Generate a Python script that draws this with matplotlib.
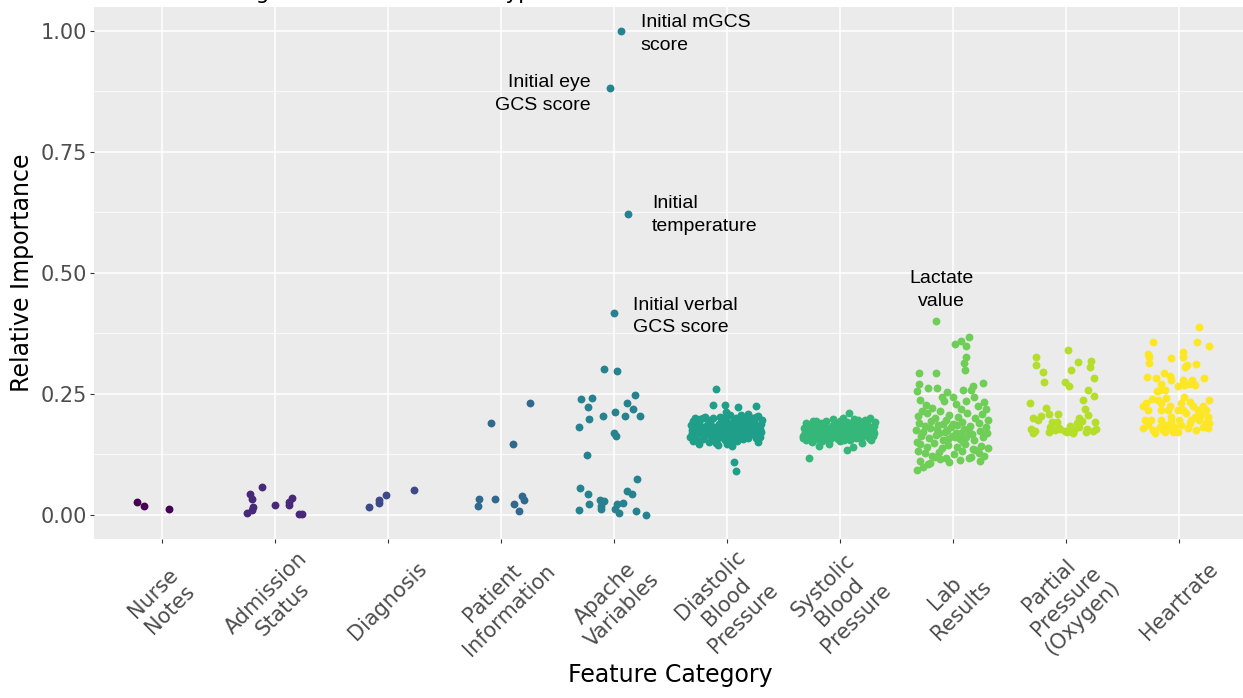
import matplotlib
matplotlib.use('Agg')
import matplotlib.pyplot as plt
import numpy as np

title = 'Feature Ranking Across Clinical Data Type'

categories = ['Nurse\nNotes', 'Admission\nStatus', 'Diagnosis', 'Patient\nInformation',
              'Apache\nVariables', 'Diastolic\nBlood\nPressure', 'Systolic\nBlood\nPressure',
              'Lab\nResults', 'Partial\nPressure\n(Oxygen)', 'Heartrate']

# (jitter offset, relative importance) for each feature
nurse_points = [(-0.22, 0.026), (-0.16, 0.019), (0.06, 0.012)]

admission_points = [(-0.22, 0.044), (-0.20, 0.033), (-0.115, 0.058), (-0.19, 0.016),
                    (-0.20, 0.009), (-0.245, 0.003), (0.00, 0.021), (0.13, 0.020),
                    (0.13, 0.027), (0.15, 0.034), (0.21, 0.001), (0.245, 0.001)]

diagnosis_points = [(-0.17, 0.017), (-0.08, 0.025), (-0.08, 0.030), (-0.02, 0.041), (0.235, 0.052)]

patient_points = [(-0.20, 0.019), (-0.19, 0.033), (-0.09, 0.189), (-0.05, 0.033), (0.11, 0.147),
                  (0.115, 0.023), (0.16, 0.008), (0.19, 0.039), (0.205, 0.030), (0.26, 0.230)]

apache_points = [(-0.085, 0.302), (0.03, 0.298), (-0.29, 0.240), (-0.19, 0.241), (0.19, 0.248),
                 (-0.23, 0.223), (0.115, 0.232), (0.01, 0.213), (0.17, 0.218), (-0.22, 0.198),
                 (-0.095, 0.204), (0.10, 0.205), (0.23, 0.204), (-0.305, 0.182), (0.00, 0.168),
                 (0.02, 0.163), (-0.24, 0.124), (0.205, 0.074), (-0.30, 0.056), (0.12, 0.050),
                 (0.16, 0.043), (-0.23, 0.043), (-0.125, 0.030), (-0.085, 0.028), (-0.115, 0.019),
                 (-0.22, 0.022), (-0.11, 0.012), (0.025, 0.022), (0.08, 0.025), (0.015, 0.012),
                 (0.05, 0.003), (-0.305, 0.009), (0.20, 0.007), (0.285, 0.000)]

# named apache features, drawn with their labels
apache_named = [(0.06, 1.000, 'Initial mGCS\nscore'),
                (-0.035, 0.882, 'Initial eye\nGCS score'),
                (0.13, 0.622, 'Initial\ntemperature'),
                (0.00, 0.417, 'Initial verbal\nGCS score')]

dbp_points = [(-0.31, 0.176), (-0.25, 0.189), (-0.18, 0.168), (-0.11, 0.182), (-0.04, 0.195),
              (0.03, 0.171), (0.10, 0.186), (0.17, 0.163), (0.23, 0.192), (0.29, 0.178),
              (-0.29, 0.162), (-0.22, 0.173), (-0.15, 0.191), (-0.08, 0.158), (-0.01, 0.179),
              (0.06, 0.197), (0.13, 0.169), (0.20, 0.181), (0.26, 0.158), (0.30, 0.188),
              (-0.32, 0.185), (-0.26, 0.155), (-0.19, 0.178), (-0.12, 0.199), (-0.05, 0.166),
              (0.02, 0.184), (0.09, 0.152), (0.15, 0.175), (0.22, 0.201), (0.28, 0.165),
              (-0.30, 0.194), (-0.23, 0.182), (-0.16, 0.150), (-0.09, 0.172), (-0.02, 0.155),
              (0.05, 0.164), (0.12, 0.193), (0.19, 0.158), (0.25, 0.177), (0.31, 0.196),
              (-0.28, 0.170), (-0.21, 0.199), (-0.14, 0.163), (-0.07, 0.187), (0.00, 0.147),
              (0.07, 0.178), (0.14, 0.181), (0.21, 0.194), (0.27, 0.170), (-0.33, 0.160),
              (-0.27, 0.181), (-0.20, 0.163), (-0.13, 0.176), (-0.06, 0.166), (0.01, 0.190),
              (0.08, 0.160), (0.16, 0.198), (0.22, 0.174), (0.28, 0.150), (0.30, 0.172),
              (-0.31, 0.168), (-0.24, 0.170), (-0.17, 0.195), (-0.10, 0.149), (-0.03, 0.182),
              (0.04, 0.151), (0.11, 0.174), (0.18, 0.186), (0.24, 0.166), (-0.06, 0.203),
              (-0.25, 0.147), (-0.18, 0.184), (-0.11, 0.170), (-0.04, 0.160), (0.03, 0.206),
              (0.10, 0.162), (0.17, 0.172), (0.25, 0.185), (-0.01, 0.212), (0.13, 0.207),
              (-0.05, 0.199), (0.00, 0.204), (0.08, 0.201), (0.26, 0.203), (0.28, 0.205),
              (-0.28, 0.200), (-0.19, 0.203), (0.19, 0.208), (-0.08, 0.145), (0.05, 0.143),
              (-0.27, 0.190), (-0.21, 0.157), (-0.14, 0.184), (-0.07, 0.176), (0.00, 0.168),
              (0.07, 0.188), (0.14, 0.156), (0.21, 0.167), (0.27, 0.183), (-0.30, 0.153),
              (-0.16, 0.170), (-0.02, 0.188), (0.11, 0.180), (0.24, 0.196), (-0.24, 0.198),
              (0.05, 0.176), (0.18, 0.194), (-0.12, 0.161), (0.02, 0.157), (0.29, 0.160),
              (-0.10, 0.259), (-0.12, 0.227), (-0.015, 0.226), (0.10, 0.222), (0.255, 0.225),
              (0.065, 0.110), (0.085, 0.090)]

sbp_points = [(-0.31, 0.172), (-0.25, 0.184), (-0.18, 0.166), (-0.11, 0.179), (-0.04, 0.188),
              (0.03, 0.169), (0.10, 0.182), (0.17, 0.161), (0.23, 0.187), (0.29, 0.175),
              (-0.33, 0.163), (-0.22, 0.170), (-0.15, 0.186), (-0.08, 0.158), (-0.01, 0.176),
              (0.06, 0.192), (0.13, 0.167), (0.20, 0.178), (0.26, 0.159), (0.30, 0.183),
              (-0.32, 0.180), (-0.26, 0.157), (-0.19, 0.175), (-0.12, 0.193), (-0.05, 0.165),
              (0.02, 0.181), (0.09, 0.155), (0.15, 0.173), (0.22, 0.195), (0.28, 0.164),
              (-0.30, 0.189), (-0.23, 0.178), (-0.16, 0.153), (-0.09, 0.170), (-0.02, 0.157),
              (0.05, 0.163), (0.12, 0.190), (0.19, 0.156), (0.25, 0.174), (0.31, 0.191),
              (-0.28, 0.168), (-0.21, 0.194), (-0.14, 0.162), (-0.07, 0.184), (0.00, 0.152),
              (0.07, 0.175), (0.14, 0.179), (0.21, 0.189), (0.27, 0.168), (-0.33, 0.158),
              (-0.27, 0.177), (-0.20, 0.161), (-0.13, 0.174), (-0.06, 0.164), (0.01, 0.186),
              (0.08, 0.160), (0.16, 0.196), (0.22, 0.171), (0.28, 0.154), (0.30, 0.170),
              (-0.31, 0.166), (-0.24, 0.168), (-0.17, 0.190), (-0.10, 0.153), (-0.03, 0.178),
              (0.04, 0.155), (0.11, 0.172), (0.18, 0.183), (0.24, 0.164), (-0.06, 0.197),
              (-0.25, 0.151), (-0.18, 0.181), (-0.11, 0.168), (-0.04, 0.161), (0.03, 0.199),
              (0.10, 0.163), (0.17, 0.170), (0.25, 0.181), (0.00, 0.193), (0.13, 0.198),
              (-0.27, 0.185), (-0.21, 0.156), (-0.14, 0.180), (-0.07, 0.172), (0.00, 0.166),
              (0.07, 0.186), (0.14, 0.158), (0.21, 0.165), (0.27, 0.180), (-0.30, 0.155),
              (-0.16, 0.169), (-0.02, 0.184), (0.11, 0.177), (0.24, 0.192), (-0.24, 0.193),
              (0.05, 0.174), (0.18, 0.190), (-0.12, 0.160), (0.02, 0.159), (0.29, 0.162),
              (-0.27, 0.117), (0.08, 0.211), (0.265, 0.201), (0.06, 0.133), (-0.18, 0.143),
              (0.12, 0.141), (-0.10, 0.147), (0.20, 0.148)]

lab_points = [(0.14, 0.367), (0.07, 0.360), (0.02, 0.353), (0.115, 0.349), (0.12, 0.326),
              (0.10, 0.313), (0.11, 0.299), (-0.30, 0.293), (-0.15, 0.293), (-0.30, 0.271),
              (0.27, 0.273), (0.18, 0.267), (-0.32, 0.255), (-0.22, 0.261), (-0.14, 0.261),
              (-0.05, 0.253), (0.09, 0.257), (0.165, 0.258), (0.19, 0.243), (0.275, 0.233),
              (-0.10, 0.243), (0.00, 0.243), (-0.32, 0.093), (-0.22, 0.105),
              (-0.29, 0.238), (-0.24, 0.226), (-0.18, 0.221), (-0.08, 0.235), (0.03, 0.229),
              (0.12, 0.236), (0.22, 0.224), (0.29, 0.219), (-0.27, 0.215), (0.07, 0.218),
              (-0.31, 0.205), (-0.23, 0.211), (-0.16, 0.200), (-0.11, 0.214), (-0.03, 0.207),
              (0.05, 0.202), (0.13, 0.210), (0.20, 0.199), (0.26, 0.208), (0.31, 0.196),
              (-0.30, 0.190), (-0.25, 0.183), (-0.19, 0.193), (-0.13, 0.186), (-0.06, 0.195),
              (0.00, 0.188), (0.08, 0.191), (0.15, 0.184), (0.23, 0.189), (0.29, 0.181),
              (-0.33, 0.176), (-0.26, 0.171), (-0.20, 0.179), (-0.12, 0.168), (-0.05, 0.175),
              (0.03, 0.170), (0.10, 0.178), (0.17, 0.166), (0.24, 0.174), (0.30, 0.169),
              (-0.28, 0.162), (-0.21, 0.158), (-0.15, 0.165), (-0.09, 0.155), (-0.01, 0.163),
              (0.06, 0.157), (0.12, 0.161), (0.19, 0.154), (0.27, 0.160), (-0.32, 0.150),
              (-0.29, 0.146), (-0.23, 0.141), (-0.17, 0.149), (-0.10, 0.138), (-0.04, 0.145),
              (0.04, 0.140), (0.11, 0.147), (0.18, 0.136), (0.25, 0.143), (0.31, 0.139),
              (-0.31, 0.131), (-0.25, 0.127), (-0.18, 0.121), (-0.12, 0.130), (-0.06, 0.118),
              (0.01, 0.125), (0.08, 0.132), (0.16, 0.120), (0.23, 0.128), (0.28, 0.122),
              (-0.29, 0.112), (-0.20, 0.108), (-0.11, 0.115), (-0.03, 0.110), (0.06, 0.113),
              (0.14, 0.117), (0.24, 0.111), (-0.26, 0.099), (-0.16, 0.120), (0.20, 0.133),
              (-0.07, 0.172), (-0.02, 0.181), (0.02, 0.160), (0.07, 0.168), (-0.14, 0.177),
              (0.14, 0.172), (-0.09, 0.188), (0.09, 0.151), (-0.04, 0.156), (0.04, 0.185)]

lab_named = [(-0.15, 0.401, 'Lactate\nvalue')]

pp_points = [(-0.26, 0.327), (0.02, 0.340), (-0.265, 0.309), (0.105, 0.315), (0.22, 0.317),
             (0.21, 0.306), (-0.205, 0.295), (0.05, 0.299), (0.25, 0.283), (-0.19, 0.274),
             (-0.01, 0.274), (0.025, 0.267), (0.20, 0.258), (0.25, 0.246), (0.155, 0.237),
             (-0.32, 0.230), (-0.175, 0.220), (0.17, 0.218), (-0.07, 0.209), (0.195, 0.207),
             (-0.15, 0.209), (-0.22, 0.205), (-0.29, 0.200), (-0.25, 0.196), (0.12, 0.199),
             (0.14, 0.194), (-0.12, 0.192), (-0.08, 0.191), (0.095, 0.189), (0.26, 0.192),
             (0.04, 0.184), (0.12, 0.181), (-0.065, 0.181), (-0.14, 0.182), (0.19, 0.178),
             (-0.305, 0.178), (-0.275, 0.174), (-0.15, 0.171), (-0.01, 0.174), (0.01, 0.171),
             (0.075, 0.176), (0.06, 0.170), (0.245, 0.174), (0.27, 0.177), (-0.29, 0.169),
             (-0.10, 0.176), (0.18, 0.171), (-0.05, 0.178)]

heart_points = [(0.18, 0.389), (-0.23, 0.357), (0.16, 0.358), (0.27, 0.349), (-0.27, 0.332),
                (-0.26, 0.327), (0.04, 0.337), (0.04, 0.327), (-0.07, 0.324), (-0.26, 0.313),
                (0.075, 0.310), (0.055, 0.305), (0.15, 0.311), (-0.285, 0.285), (-0.205, 0.282),
                (-0.135, 0.293), (-0.08, 0.286), (-0.07, 0.278), (0.04, 0.279), (0.12, 0.278),
                (0.22, 0.283), (-0.155, 0.271), (-0.01, 0.267), (0.045, 0.268), (0.09, 0.271),
                (0.145, 0.268), (-0.17, 0.258), (-0.12, 0.258), (-0.19, 0.255),
                (-0.24, 0.240), (-0.29, 0.232), (-0.32, 0.224), (-0.27, 0.217), (-0.30, 0.196),
                (-0.32, 0.179), (-0.27, 0.186), (-0.23, 0.176), (-0.215, 0.169), (-0.155, 0.196),
                (-0.125, 0.186), (-0.14, 0.176), (-0.10, 0.217), (-0.08, 0.224), (-0.07, 0.203),
                (-0.11, 0.241), (-0.155, 0.231), (-0.185, 0.238), (-0.04, 0.182), (-0.05, 0.172),
                (0.02, 0.231), (0.035, 0.217), (0.005, 0.196), (0.02, 0.186), (0.05, 0.244),
                (0.095, 0.234), (0.125, 0.224), (0.14, 0.203), (0.095, 0.189), (0.08, 0.179),
                (0.17, 0.217), (0.18, 0.196), (0.21, 0.224), (0.24, 0.217), (0.255, 0.203),
                (0.24, 0.189), (0.21, 0.182), (0.155, 0.176), (0.11, 0.196), (0.27, 0.238),
                (-0.245, 0.196), (-0.17, 0.182), (-0.01, 0.217), (-0.10, 0.182), (0.195, 0.207),
                (0.065, 0.210), (-0.07, 0.193), (-0.155, 0.217), (0.27, 0.189), (0.255, 0.179),
                (-0.01, 0.172), (-0.125, 0.172)]


def main():
    groups = [nurse_points, admission_points, diagnosis_points, patient_points,
              apache_points + [(j, v) for j, v, _ in apache_named],
              dbp_points, sbp_points,
              lab_points + [(j, v) for j, v, _ in lab_named],
              pp_points, heart_points]
    colors = plt.get_cmap('viridis')(np.linspace(0, 1, len(categories)))

    fig = plt.figure(figsize=(12.43, 6.98), dpi=100)
    ax = fig.add_axes([94 / 1243, 1 - 539 / 698, 1152.6 / 1243, 532.4 / 698])
    ax.set_facecolor('#EBEBEB')
    for s in ax.spines.values():
        s.set_visible(False)

    for i, pts in enumerate(groups):
        jit, val = zip(*pts)
        ax.scatter(np.array(jit) + i + 1, val, s=32, color=colors[i], linewidths=0, zorder=3)

    # text labels for the standout features
    label_font = dict(family='Liberation Sans', fontsize=14, color='black', linespacing=1.45)
    offsets = [((14.5, -2.5), 'left'), ((-13.5, -4.5), 'right'),
               ((17, -1), 'left'), ((13.5, -2.5), 'left')]
    for (j, v, txt), (off, ha) in zip(apache_named, offsets):
        ax.annotate(txt, (5 + j, v), xytext=off, textcoords='offset points',
                    ha=ha, va='center', multialignment=ha, **label_font)
    for j, v, txt in lab_named:
        ax.annotate(txt, (8 + j, v), xytext=(4, 22), textcoords='offset points',
                    ha='center', va='center', multialignment='center', **label_font)

    ax.set_xlim(0.4, 10.6)
    ax.set_ylim(-0.05, 1.05)
    ax.set_xticks(np.arange(1, len(categories) + 1))
    ax.set_xticklabels(categories)
    ax.set_yticks([0, 0.25, 0.5, 0.75, 1.0])
    ax.set_yticklabels(['0.00', '0.25', '0.50', '0.75', '1.00'])
    ax.set_yticks([0.125, 0.375, 0.625, 0.875], minor=True)
    ax.set_axisbelow(True)
    ax.grid(which='major', color='white', linewidth=1.1)
    ax.grid(which='minor', axis='y', color='white', linewidth=0.55)
    ax.tick_params(which='major', length=3, width=0.8, color='#333333',
                   labelcolor='#4D4D4D', labelsize=15)
    ax.tick_params(which='minor', length=0)
    ax.tick_params(axis='y', pad=2)
    ax.tick_params(axis='x', pad=42)
    for lab in ax.get_xticklabels():
        lab.set_rotation(45)
        lab.set_rotation_mode('anchor')
        lab.set_ha('center')
        lab.set_va('center')
        lab.set_multialignment('center')

    ax.set_xlabel('Feature Category', fontsize=17)
    ax.xaxis.set_label_coords(0.5, -0.255)
    ax.xaxis.label.set_va('center')
    ax.set_ylabel('Relative Importance', fontsize=17)
    ax.yaxis.set_label_coords(-0.0625, 0.5)
    ax.yaxis.label.set_va('center')

    fig.text(94 / 1243, 1 + 1 / 698, title, fontsize=15.5, ha='left', va='baseline')

    fig.savefig('out.png', dpi=100)


if __name__ == '__main__':
    main()
